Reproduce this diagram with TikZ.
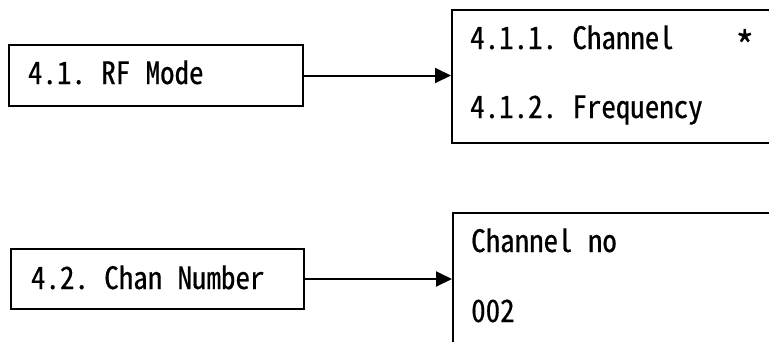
\documentclass[tikz,border=0pt]{standalone}
\usepackage{fontspec}
\newfontfamily\gothic[RawFeature=+hwid,FakeBold=0.5,FakeStretch=0.94]{Noto Sans CJK JP}
\usetikzlibrary{arrows.meta}
\newcommand\hsp{\hspace{0.5em}}
\begin{document}
\begin{tikzpicture}[x=1pt,y=-1pt,
  box/.style={draw, line width=2pt, rectangle, inner sep=0pt},
  txt/.style={font=\gothic\fontsize{30.8}{36}\selectfont},
  lbl/.style={txt, anchor=base west, inner sep=0pt},
  arr/.style={line width=2pt, -{Triangle[length=16pt,width=15pt]}}]
\useasboundingbox (0,0) rectangle (769,341);
\clip (0,0) rectangle (769,341);
% top row
\node[box, txt, anchor=north west, align=left, text width=256pt, inner xsep=19pt,
      minimum height=61pt, text height=21pt, text depth=4pt] (b1) at (8,44) {4.1.\hsp RF\hsp Mode};
\node[box, anchor=north west, minimum width=340pt, minimum height=133pt] (r1) at (451,9) {};
\node[lbl] (t11) at (470,49) {4.1.1.\hsp Channel\hsp\hsp\hsp\hsp\raisebox{-12pt}{\scalebox{1.3}{*}}};
\node[lbl] (t12) at (470,118) {4.1.2.\hsp Frequency};
\draw[arr] (b1.east) -- (b1.east -| r1.west);
% bottom row
\node[box, txt, anchor=north west, align=left, text width=253pt, inner xsep=20pt,
      minimum height=60pt, text height=21pt, text depth=1pt] (b2) at (10,248) {4.2.\hsp Chan\hsp Number};
\node[box, anchor=north west, minimum width=340pt, minimum height=150pt] (r2) at (452,212) {};
\node[lbl] (t21) at (471,252) {Channel\hsp no};
\node[lbl] (t22) at (471,322) {002};
\draw[arr] (b2.east) -- (b2.east -| r2.west);
\end{tikzpicture}
\end{document}
